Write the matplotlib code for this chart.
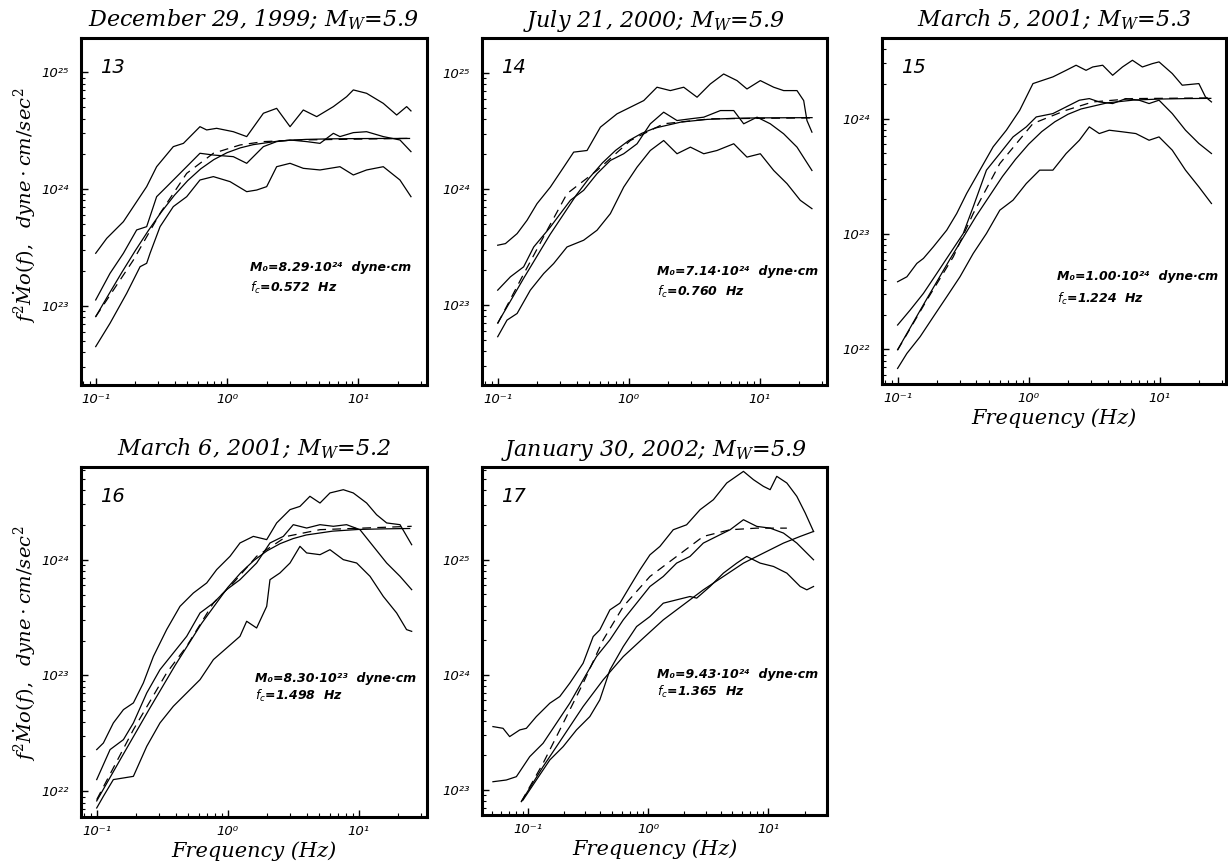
import numpy as np
import matplotlib
matplotlib.use("Agg")
import matplotlib.pyplot as plt
from matplotlib.ticker import LogLocator, FuncFormatter, NullFormatter

# ---------------- data (log10 frequency [Hz], log10 f^2*Mo(f) [dyne cm/s^2]) ----------------
# Panel 13 : December 29, 1999
p13_up_x = [-1, -0.916, -0.789, -0.713, -0.612, -0.536, -0.409, -0.332, -0.206, -0.155, -0.079, 0.048, 0.15, 0.277, 0.378, 0.48, 0.581, 0.683, 0.81, 0.911, 0.962, 1.063, 1.19, 1.292, 1.368, 1.401]
p13_up_y = [23.449, 23.577, 23.72, 23.849, 24.02, 24.191, 24.363, 24.391, 24.534, 24.506, 24.52, 24.491, 24.449, 24.649, 24.691, 24.534, 24.677, 24.62, 24.706, 24.791, 24.849, 24.82, 24.734, 24.634, 24.706, 24.669]
p13_mid_x = [-1, -0.891, -0.789, -0.688, -0.612, -0.536, -0.459, -0.358, -0.206, -0.104, 0.048, 0.150, 0.277, 0.378, 0.480, 0.607, 0.708, 0.810, 0.860, 0.962, 1.063, 1.190, 1.317, 1.401]
p13_mid_y = [23.049, 23.277, 23.449, 23.649, 23.677, 23.934, 24.02, 24.134, 24.306, 24.291, 24.277, 24.22, 24.363, 24.406, 24.42, 24.406, 24.391, 24.477, 24.449, 24.483, 24.491, 24.449, 24.42, 24.32]
p13_low_x = [-1, -0.891, -0.764, -0.662, -0.612, -0.586, -0.510, -0.409, -0.307, -0.206, -0.104, 0.023, 0.150, 0.226, 0.302, 0.378, 0.480, 0.581, 0.708, 0.860, 0.962, 1.063, 1.190, 1.317, 1.401]
p13_low_y = [22.649, 22.849, 23.106, 23.334, 23.363, 23.449, 23.677, 23.849, 23.934, 24.077, 24.106, 24.063, 23.977, 23.991, 24.02, 24.191, 24.22, 24.177, 24.163, 24.191, 24.12, 24.163, 24.191, 24.077, 23.934]
p13_fit_x = [-1, -0.9, -0.8, -0.7, -0.6, -0.5, -0.4, -0.3, -0.2, -0.1, 0, 0.1, 0.2, 0.4, 0.6, 0.8, 1.0, 1.2, 1.39]
p13_fit_y = [22.906, 23.098, 23.287, 23.469, 23.642, 23.803, 23.947, 24.071, 24.173, 24.252, 24.311, 24.352, 24.380, 24.412, 24.425, 24.430, 24.432, 24.433, 24.433]
p13_dash_x = [-1, -0.713, -0.510, -0.307, -0.104, 0.099, 0.277, 0.556, 1.40]
p13_dash_y = [22.906, 23.391, 23.791, 24.134, 24.306, 24.377, 24.406, 24.42, 24.434]

# Panel 14 : July 21, 2000
p14_up_x = [-1, -0.941, -0.852, -0.776, -0.700, -0.598, -0.496, -0.420, -0.318, -0.216, -0.089, 0.013, 0.115, 0.216, 0.318, 0.420, 0.522, 0.623, 0.725, 0.827, 0.903, 1.005, 1.107, 1.183, 1.285, 1.336, 1.361, 1.399]
p14_up_y = [23.516, 23.530, 23.616, 23.731, 23.874, 24.017, 24.189, 24.318, 24.332, 24.533, 24.648, 24.705, 24.762, 24.877, 24.848, 24.877, 24.791, 24.905, 24.991, 24.934, 24.862, 24.934, 24.877, 24.848, 24.848, 24.762, 24.590, 24.490]
p14_mid_x = [-1, -0.903, -0.802, -0.725, -0.598, -0.522, -0.445, -0.344, -0.242, -0.140, -0.038, 0.064, 0.165, 0.267, 0.369, 0.471, 0.573, 0.700, 0.802, 0.878, 0.980, 1.081, 1.183, 1.285, 1.399]
p14_mid_y = [23.129, 23.244, 23.330, 23.501, 23.673, 23.788, 23.903, 23.989, 24.132, 24.246, 24.304, 24.390, 24.562, 24.662, 24.590, 24.605, 24.619, 24.676, 24.676, 24.562, 24.619, 24.562, 24.476, 24.361, 24.160]
p14_low_x = [-1, -0.929, -0.852, -0.751, -0.649, -0.573, -0.471, -0.344, -0.242, -0.140, -0.038, 0.064, 0.165, 0.267, 0.369, 0.471, 0.573, 0.674, 0.802, 0.903, 1.005, 1.107, 1.209, 1.310, 1.399]
p14_low_y = [22.728, 22.871, 22.928, 23.129, 23.272, 23.358, 23.501, 23.559, 23.645, 23.788, 24.017, 24.189, 24.332, 24.418, 24.304, 24.361, 24.304, 24.332, 24.390, 24.275, 24.304, 24.160, 24.046, 23.903, 23.831]
p14_fit_x = [-1, -0.8, -0.6, -0.4, -0.3, -0.2, -0.1, 0, 0.1, 0.2, 0.4, 0.6, 0.8, 1.0, 1.2, 1.4]
p14_fit_y = [22.846, 23.235, 23.609, 23.948, 24.097, 24.226, 24.333, 24.417, 24.480, 24.525, 24.577, 24.600, 24.609, 24.613, 24.614, 24.615]
p14_dash_x = [-1, -0.827, -0.623, -0.471, -0.242, 0.013, 0.267, 0.623, 1.40]
p14_dash_y = [22.842, 23.215, 23.645, 23.960, 24.160, 24.418, 24.562, 24.605, 24.613]

# Panel 15 : March 5, 2001
p15_up_x = [-1, -0.929, -0.853, -0.803, -0.727, -0.625, -0.549, -0.473, -0.372, -0.271, -0.170, -0.068, 0.033, 0.109, 0.185, 0.286, 0.362, 0.438, 0.489, 0.565, 0.641, 0.716, 0.792, 0.868, 0.944, 0.995, 1.096, 1.172, 1.299, 1.349, 1.395]
p15_up_y = [22.586, 22.629, 22.745, 22.788, 22.889, 23.033, 23.177, 23.351, 23.553, 23.755, 23.899, 24.072, 24.303, 24.332, 24.361, 24.418, 24.462, 24.418, 24.447, 24.462, 24.375, 24.447, 24.505, 24.447, 24.476, 24.491, 24.390, 24.289, 24.303, 24.188, 24.144]
p15_mid_x = [-1, -0.904, -0.803, -0.701, -0.600, -0.499, -0.423, -0.322, -0.220, -0.119, -0.018, 0.058, 0.185, 0.286, 0.387, 0.463, 0.539, 0.641, 0.742, 0.843, 0.919, 0.995, 1.096, 1.197, 1.299, 1.395]
p15_mid_y = [22.211, 22.341, 22.485, 22.658, 22.831, 23.004, 23.235, 23.553, 23.697, 23.841, 23.928, 24.014, 24.043, 24.101, 24.159, 24.173, 24.144, 24.130, 24.173, 24.159, 24.130, 24.159, 24.043, 23.899, 23.784, 23.697]
p15_low_x = [-1, -0.929, -0.828, -0.727, -0.625, -0.524, -0.423, -0.322, -0.220, -0.119, -0.018, 0.084, 0.185, 0.286, 0.387, 0.463, 0.539, 0.615, 0.716, 0.818, 0.919, 0.995, 1.096, 1.197, 1.299, 1.395]
p15_low_y = [21.835, 21.965, 22.110, 22.283, 22.456, 22.629, 22.831, 23.004, 23.206, 23.293, 23.437, 23.553, 23.553, 23.697, 23.812, 23.928, 23.870, 23.899, 23.885, 23.870, 23.812, 23.841, 23.726, 23.553, 23.408, 23.264]
p15_fit_x = [-1, -0.8, -0.6, -0.4, -0.2, -0.1, 0, 0.1, 0.2, 0.3, 0.4, 0.6, 0.8, 1.0, 1.2, 1.39]
p15_fit_y = [21.997, 22.393, 22.782, 23.156, 23.498, 23.647, 23.778, 23.887, 23.972, 24.037, 24.083, 24.136, 24.160, 24.169, 24.173, 24.175]
p15_dash_x = [-1, -0.777, -0.575, -0.423, -0.220, 0.033, 0.286, 0.489, 0.792, 1.395]
p15_dash_y = [21.994, 22.427, 22.802, 23.177, 23.610, 23.957, 24.072, 24.144, 24.173, 24.179]

# Panel 16 : March 6, 2001
p16_up_x = [-1, -0.949, -0.873, -0.796, -0.720, -0.644, -0.567, -0.466, -0.364, -0.262, -0.160, -0.084, 0.018, 0.094, 0.196, 0.298, 0.374, 0.476, 0.552, 0.628, 0.705, 0.781, 0.883, 0.959, 1.061, 1.137, 1.214, 1.316, 1.405]
p16_up_y = [22.360, 22.417, 22.590, 22.705, 22.763, 22.935, 23.165, 23.396, 23.597, 23.712, 23.799, 23.914, 24.029, 24.144, 24.201, 24.173, 24.317, 24.432, 24.460, 24.547, 24.489, 24.576, 24.604, 24.576, 24.489, 24.388, 24.317, 24.302, 24.129]
p16_mid_x = [-1, -0.898, -0.796, -0.720, -0.618, -0.517, -0.415, -0.313, -0.211, -0.109, -0.008, 0.094, 0.221, 0.323, 0.425, 0.501, 0.603, 0.705, 0.807, 0.908, 1.010, 1.112, 1.214, 1.316, 1.405]
p16_mid_y = [22.101, 22.360, 22.446, 22.590, 22.849, 23.050, 23.194, 23.338, 23.540, 23.626, 23.741, 23.827, 23.971, 24.144, 24.201, 24.302, 24.273, 24.302, 24.288, 24.302, 24.259, 24.115, 23.971, 23.856, 23.741]
p16_low_x = [-1, -0.949, -0.873, -0.796, -0.720, -0.618, -0.517, -0.415, -0.313, -0.211, -0.109, -0.008, 0.094, 0.145, 0.221, 0.298, 0.323, 0.399, 0.476, 0.552, 0.603, 0.705, 0.781, 0.883, 0.985, 1.087, 1.188, 1.290, 1.366, 1.405]
p16_low_y = [21.856, 21.957, 22.101, 22.115, 22.129, 22.388, 22.590, 22.734, 22.849, 22.964, 23.137, 23.237, 23.338, 23.468, 23.410, 23.597, 23.827, 23.885, 23.971, 24.115, 24.058, 24.043, 24.086, 24.000, 23.971, 23.856, 23.683, 23.540, 23.396, 23.381]
p16_fit_x = [-1, -0.8, -0.6, -0.4, -0.2, 0, 0.1, 0.2, 0.3, 0.4, 0.5, 0.6, 0.8, 1.0, 1.2, 1.39]
p16_fit_y = [21.917, 22.314, 22.707, 23.090, 23.448, 23.759, 23.887, 23.993, 24.076, 24.138, 24.182, 24.213, 24.246, 24.261, 24.266, 24.269]
p16_dash_x = [-1, -0.720, -0.466, -0.313, -0.109, 0.043, 0.221, 0.450, 0.705, 1.405]
p16_dash_y = [21.928, 22.532, 23.022, 23.252, 23.626, 23.799, 24.029, 24.201, 24.259, 24.288]

# Panel 17 : January 30, 2002
p17_up_x = [-1.292, -1.208, -1.153, -1.069, -1.014, -0.931, -0.819, -0.736, -0.653, -0.542, -0.458, -0.403, -0.319, -0.236, -0.153, -0.069, 0.014, 0.097, 0.208, 0.319, 0.431, 0.542, 0.653, 0.792, 0.875, 0.958, 1.014, 1.069, 1.153, 1.236, 1.306, 1.375]
p17_up_y = [23.551, 23.536, 23.464, 23.522, 23.536, 23.638, 23.754, 23.812, 23.928, 24.101, 24.333, 24.391, 24.565, 24.623, 24.768, 24.913, 25.043, 25.116, 25.261, 25.304, 25.435, 25.522, 25.667, 25.768, 25.696, 25.638, 25.609, 25.725, 25.667, 25.551, 25.406, 25.246]
p17_mid_x = [-1.292, -1.181, -1.097, -0.986, -0.875, -0.764, -0.653, -0.542, -0.431, -0.319, -0.208, -0.097, 0.014, 0.125, 0.236, 0.347, 0.458, 0.569, 0.681, 0.792, 0.903, 1.014, 1.125, 1.236, 1.375]
p17_mid_y = [23.072, 23.087, 23.116, 23.290, 23.406, 23.580, 23.754, 23.957, 24.159, 24.304, 24.478, 24.623, 24.768, 24.855, 24.971, 25.029, 25.145, 25.203, 25.261, 25.348, 25.290, 25.275, 25.232, 25.145, 25.000]
p17_low_x = [-1.042, -0.931, -0.819, -0.708, -0.597, -0.486, -0.403, -0.319, -0.208, -0.097, 0.014, 0.125, 0.236, 0.347, 0.403, 0.514, 0.625, 0.736, 0.819, 0.931, 1.042, 1.153, 1.264, 1.319, 1.375]
p17_low_y = [22.913, 23.087, 23.261, 23.377, 23.522, 23.638, 23.783, 24.043, 24.246, 24.420, 24.507, 24.623, 24.652, 24.681, 24.667, 24.768, 24.884, 24.971, 25.029, 24.971, 24.942, 24.884, 24.768, 24.739, 24.768]
p17_fit_x = [-1.056, -0.875, -0.708, -0.542, -0.375, -0.208, -0.042, 0.125, 0.292, 0.458, 0.625, 0.792, 0.958, 1.125, 1.264, 1.375]
p17_fit_y = [22.899, 23.203, 23.464, 23.725, 23.957, 24.159, 24.319, 24.478, 24.609, 24.739, 24.855, 24.971, 25.058, 25.145, 25.203, 25.246]
p17_dash_x = [-1.056, -0.875, -0.708, -0.542, -0.375, -0.208, 0.014, 0.236, 0.458, 0.681, 0.903, 1.153]
p17_dash_y = [22.899, 23.232, 23.580, 23.928, 24.304, 24.594, 24.855, 25.029, 25.203, 25.261, 25.275, 25.275]

titles = ["December 29, 1999; $M_W$=5.9", "July 21, 2000; $M_W$=5.9", "March 5, 2001; $M_W$=5.3",
          "March 6, 2001; $M_W$=5.2", "January 30, 2002; $M_W$=5.9"]
numbers = ["13", "14", "15", "16", "17"]
m0_text = ["8.29·10²⁴", "7.14·10²⁴", "1.00·10²⁴", "8.30·10²³", "9.43·10²⁴"]
fc_text = ["0.572", "0.760", "1.224", "1.498", "1.365"]

# ---------------- layout ----------------
W, H = 1228, 867
fig = plt.figure(figsize=(W / 100, H / 100), dpi=100)

# pixel boxes: left, top, right, bottom
boxes = [(81, 38, 427, 385), (482, 38, 827, 385), (882, 38, 1226, 384),
         (81, 467, 427, 817), (482, 467, 827, 815)]
# axis limits in log10 units (x0, x1, y0, y1)
limits = [(-1.112, 1.523, 22.320, 25.294), (-1.120, 1.514, 22.312, 25.301),
          (-1.119, 1.506, 21.700, 24.698), (-1.120, 1.522, 21.778, 24.800),
          (-1.383, 1.487, 22.783, 25.806)]
ann_pos = [(0.488, 0.34, 0.28), (0.507, 0.326, 0.268), (0.509, 0.31, 0.247),
           (0.503, 0.397, 0.345), (0.506, 0.403, 0.355)]

series = [
    (p13_up_x, p13_up_y, p13_mid_x, p13_mid_y, p13_low_x, p13_low_y, p13_fit_x, p13_fit_y, p13_dash_x, p13_dash_y),
    (p14_up_x, p14_up_y, p14_mid_x, p14_mid_y, p14_low_x, p14_low_y, p14_fit_x, p14_fit_y, p14_dash_x, p14_dash_y),
    (p15_up_x, p15_up_y, p15_mid_x, p15_mid_y, p15_low_x, p15_low_y, p15_fit_x, p15_fit_y, p15_dash_x, p15_dash_y),
    (p16_up_x, p16_up_y, p16_mid_x, p16_mid_y, p16_low_x, p16_low_y, p16_fit_x, p16_fit_y, p16_dash_x, p16_dash_y),
    (p17_up_x, p17_up_y, p17_mid_x, p17_mid_y, p17_low_x, p17_low_y, p17_fit_x, p17_fit_y, p17_dash_x, p17_dash_y),
]

SUP = str.maketrans("-0123456789", "⁻⁰¹²³⁴⁵⁶⁷⁸⁹")


def pow_fmt(v, pos):
    e = int(round(np.log10(v)))
    return "10" + str(e).translate(SUP)


serif_it = dict(family="DejaVu Serif", fontstyle="italic", math_fontfamily="dejavuserif")

for i, (box, lim, s) in enumerate(zip(boxes, limits, series)):
    l, t, r, b = box
    ax = fig.add_axes([l / W, 1 - b / H, (r - l) / W, (b - t) / H])
    ax.set_xscale("log")
    ax.set_yscale("log")
    lw = 0.9
    ux, uy, mx, my, lx, ly, fx, fy, dx, dy = s
    for xs, ys in ((ux, uy), (mx, my), (lx, ly), (fx, fy)):
        ax.plot(10 ** np.array(xs), 10 ** np.array(ys), color="black", lw=lw)
    ax.plot(10 ** np.array(dx), 10 ** np.array(dy), color="black", lw=lw, linestyle=(0, (7, 5)))

    ax.set_xlim(10 ** lim[0], 10 ** lim[1])
    ax.set_ylim(10 ** lim[2], 10 ** lim[3])

    for sp in ax.spines.values():
        sp.set_linewidth(2.2)
        sp.set_color("black")

    ax.xaxis.set_major_locator(LogLocator(base=10, numticks=20))
    ax.yaxis.set_major_locator(LogLocator(base=10, numticks=20))
    ax.xaxis.set_minor_locator(LogLocator(base=10, subs=np.arange(2, 10), numticks=20))
    ax.yaxis.set_minor_locator(LogLocator(base=10, subs=np.arange(2, 10), numticks=20))
    ax.xaxis.set_major_formatter(FuncFormatter(pow_fmt))
    ax.yaxis.set_major_formatter(FuncFormatter(pow_fmt))
    ax.xaxis.set_minor_formatter(NullFormatter())
    ax.yaxis.set_minor_formatter(NullFormatter())
    ax.tick_params(which="major", direction="in", length=5, width=1.0,
                   top=False, right=False, labelsize=9.5)
    ax.tick_params(which="minor", direction="in", length=3, width=0.8,
                   top=False, right=False)
    ax.tick_params(axis="x", which="major", pad=6)
    ax.tick_params(axis="y", which="major", pad=9)
    for lab in ax.get_xticklabels() + ax.get_yticklabels():
        lab.set_fontstyle("italic")

    ax.set_title(titles[i], fontsize=16, pad=8, **serif_it)

    ax.text(0.055, 0.915, numbers[i], transform=ax.transAxes, fontsize=14,
            fontstyle="italic", ha="left", va="center")
    ax_, y1, y2 = ann_pos[i]
    ax.text(ax_, y1, "M₀=" + m0_text[i] + "  dyne·cm", transform=ax.transAxes,
            fontsize=9, fontweight="bold", fontstyle="italic", ha="left", va="center")
    ax.text(ax_, y2, "$f_c$=" + fc_text[i] + "  Hz", transform=ax.transAxes,
            fontsize=9, fontweight="bold", fontstyle="italic", ha="left", va="center",
            math_fontfamily="dejavusans")

    if i in (0, 3):
        yc = 0.519 if i == 0 else 0.497
        ax.text(-0.163, yc, r"$f^2\dot{M}o(f),\ \ dyne\cdot cm/sec^2$", transform=ax.transAxes,
                rotation=90, ha="center", va="center", fontsize=14, **serif_it)
    if i in (2, 3, 4):
        ax.set_xlabel("Frequency (Hz)", fontsize=15, labelpad=2, **serif_it)

fig.savefig("out.png", dpi=100)
